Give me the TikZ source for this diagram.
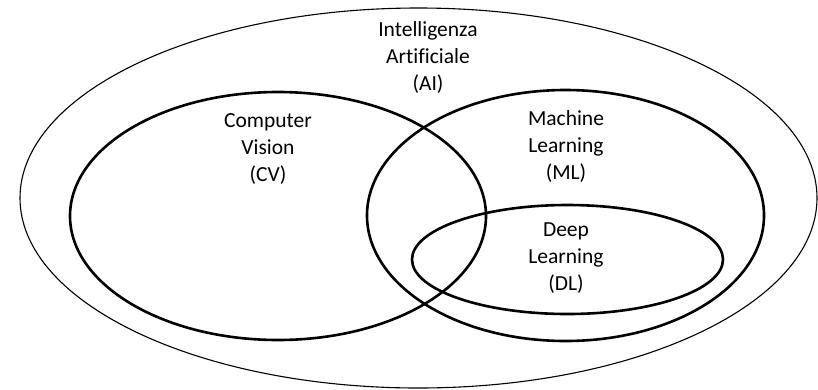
\documentclass[tikz,border=0pt]{standalone}
\usepackage{fontspec}
\setmainfont{Carlito}[Ligatures=NoCommon]
\begin{document}
\begin{tikzpicture}[x=1pt,y=-1pt,
  thinset/.style={draw=black,line width=1.1pt},
  thickset/.style={draw=black,line width=2.6pt},
  label/.style={align=center,inner sep=0pt,font=\fontsize{21.5}{27}\selectfont}]
  \fill[white] (0,0) rectangle (818,389);
  \useasboundingbox (0,0) rectangle (818,389);

  % outer set: artificial intelligence
  \draw[thinset] (418.5,198) ellipse [x radius=398.5, y radius=190];
  % computer vision
  \draw[thickset] (278,216) ellipse [x radius=208, y radius=124];
  % machine learning
  \draw[thickset] (565.5,215.5) ellipse [x radius=198.5, y radius=125.5];
  % deep learning
  \draw[thickset] (567.5,259.5) ellipse [x radius=155.5, y radius=54.5];

  \node[label] (ai) at (428,58) {Intelligenza\\Artificiale\\(AI)};
  \node[label] (cv) at (268,149) {Computer\\Vision\\(CV)};
  \node[label] (ml) at (566,147) {Machine\\Learning\\(ML)};
  \node[label] (dl) at (566,258) {Deep\\Learning\\(DL)};
\end{tikzpicture}
\end{document}
